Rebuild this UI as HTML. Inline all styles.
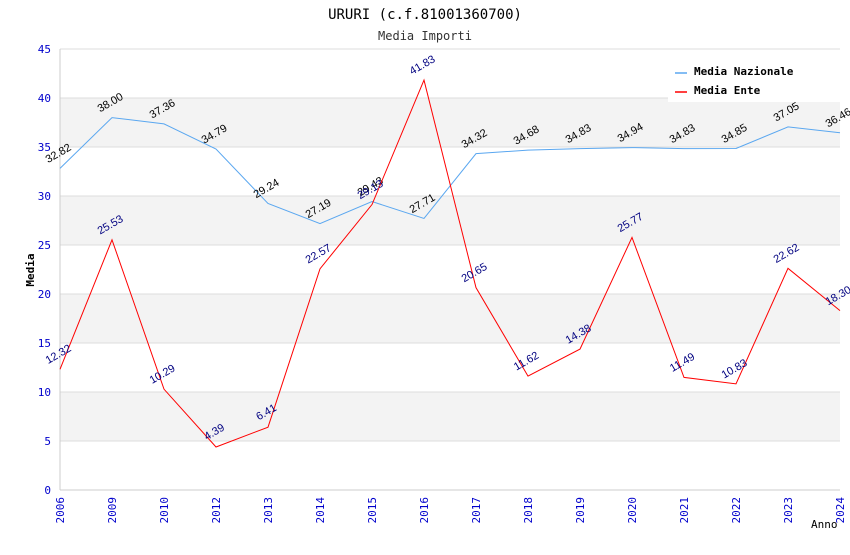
<!DOCTYPE html>
<html><head><meta charset="utf-8"><style>
body{margin:0;background:#fff}
svg text{font-family:"DejaVu Sans Mono","Liberation Mono",monospace}
svg text.val{font-family:"Liberation Sans",Arial,sans-serif}
</style></head><body>
<svg id="chart" width="850" height="550" xmlns="http://www.w3.org/2000/svg">
<text x="425" y="19" text-anchor="middle" font-size="14" fill="#000">URURI (c.f.81001360700)</text>
<text x="425" y="40" text-anchor="middle" font-size="12" fill="#333">Media Importi</text>
<g id="grid"></g>
<g id="axes"></g>
<g id="series"></g>
<g>
<rect x="668" y="60" width="172" height="42" fill="#fff"/>
<line x1="675" y1="73" x2="687" y2="73" stroke="#5aa7f0" stroke-width="1.5"/>
<text x="694" y="75" font-size="11" font-weight="bold">Media Nazionale</text>
<line x1="675" y1="92" x2="687" y2="92" stroke="#f00" stroke-width="1.5"/>
<text x="694" y="94" font-size="11" font-weight="bold">Media Ente</text>
</g>
<text x="34" y="270" font-size="11" font-weight="bold" transform="rotate(-90 34 270)" text-anchor="middle">Media</text>
<text x="811" y="528" font-size="11">Anno</text>
</svg>
<script>
const categories=["2006","2009","2010","2012","2013","2014","2015","2016","2017","2018","2019","2020","2021","2022","2023","2024"];
const nazionale=[32.82,38.00,37.36,34.79,29.24,27.19,29.43,27.71,34.32,34.68,34.83,34.94,34.83,34.85,37.05,36.46];
const ente=[12.32,25.53,10.29,4.39,6.41,22.57,29.13,41.83,20.65,11.62,14.38,25.77,11.49,10.83,22.62,18.30];
const yTicks=[0,5,10,15,20,25,30,35,40,45];
const NS="http://www.w3.org/2000/svg";
const L=60,R=840,T=49,B=490;
const x=i=>L+i*(R-L)/(categories.length-1);
const y=v=>B-v*(B-T)/45;
function mk(tag,attrs,parent,txt){const e=document.createElementNS(NS,tag);for(const k in attrs)e.setAttribute(k,attrs[k]);if(txt!=null)e.textContent=txt;parent.appendChild(e);return e;}
const grid=document.getElementById('grid'),axes=document.getElementById('axes'),series=document.getElementById('series');
for(let i=0;i<yTicks.length-1;i++){
  if(i%2===1){const r=mk('rect',{x:L,y:y(yTicks[i+1]),width:R-L,height:y(yTicks[i])-y(yTicks[i+1]),fill:'#f3f3f3'},grid);
  
  }
}
yTicks.forEach(t=>{
  const l=mk('line',{x1:L,x2:R,y1:y(t),y2:y(t),stroke:'#ddd'},grid);
  
  
  const tx=mk('text',{x:L-9,y:y(t)+4,'text-anchor':'end','font-size':11,fill:'#00c'},axes,String(t));
  
  
});
mk('line',{x1:L,x2:L,y1:T,y2:B,stroke:'#ccc'},axes);
mk('line',{x1:L,x2:R,y1:B,y2:B,stroke:'#ccc'},axes);
categories.forEach((c,i)=>{
  const tx=mk('text',{x:x(i)+4,y:B+7,'text-anchor':'end','font-size':11,fill:'#00c',transform:`rotate(-90 ${x(i)+4} ${B+7})`},axes,c);
  
  
});
function draw(vals,color,labelColor,name){
  const p=mk('polyline',{points:vals.map((v,i)=>x(i)+','+y(v)).join(' '),fill:'none',stroke:color,'stroke-width':1},series);
  
  
  vals.forEach((v,i)=>{
    const px=x(i),py=y(v)-12;
    const t=mk('text',{class:'val',x:px,y:py,'text-anchor':'middle','font-size':11,fill:labelColor,transform:`rotate(-30 ${px} ${py})`},series,v.toFixed(2));
    
    
  });
}
draw(nazionale,'#5aa7f0','#000','nazionale');
draw(ente,'#f00','#000080','ente');
</script>
</body></html>
